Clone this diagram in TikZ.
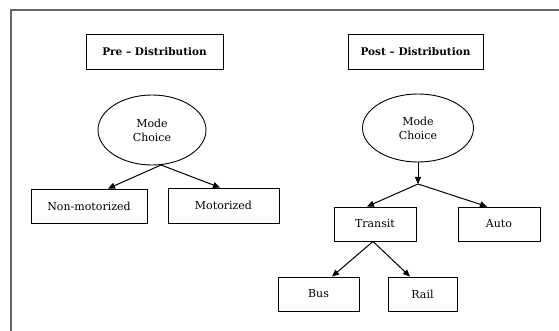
\documentclass[tikz,border=0pt]{standalone}
\usepackage{fontspec}
\setmainfont{DejaVu Serif}
\usetikzlibrary{arrows.meta,shapes.geometric,calc}
\begin{document}
\begin{tikzpicture}[x=1pt,y=-1pt,
  every node/.style={font=\fontsize{11}{14}\selectfont, text=black},
  boxnode/.style={draw=black, line width=0.9pt, rectangle, inner sep=0pt, anchor=center},
  titlenode/.style={boxnode, font=\fontsize{10.5}{13}\selectfont\bfseries},
  ellnode/.style={draw=black, line width=0.9pt, ellipse, inner sep=0pt, align=center, anchor=center},
  arr/.style={draw=black, line width=1pt, -{Triangle[length=7pt,width=6pt]}}]
\useasboundingbox (0,0) rectangle (559,331);
\fill[white] (0,0) rectangle (559,331);
% frame
\draw[draw=black!60, line width=1.6pt] (11,331) -- (11,10) -- (559,10);
% Pre distribution
\node[titlenode, minimum width=137pt, minimum height=35pt] (pre) at (154.5,51.5) {Pre -- Distribution};
\node[ellnode, minimum width=108pt, minimum height=70pt] (lmc) at (152,130) {Mode\\Choice};
\node[boxnode, minimum width=116pt, minimum height=34pt] (nm) at (89,206) {Non-motorized};
\node[boxnode, minimum width=111pt, minimum height=35pt] (mot) at (223.5,205.5) {Motorized};
\coordinate (lsrc) at (161,165);
\draw[arr] (lsrc) -- ($(nm.north)+(19,0)$);
\draw[arr] (lsrc) -- ($(mot.north)+(-3.5,0)$);
% Post distribution
\node[titlenode, minimum width=135pt, minimum height=35pt] (post) at (415.5,51.5) {Post -- Distribution};
\node[ellnode, minimum width=111pt, minimum height=68pt] (rmc) at (418,128) {Mode\\Choice};
\node[boxnode, minimum width=82pt, minimum height=34pt] (tr) at (375,224) {Transit};
\node[boxnode, minimum width=82pt, minimum height=34pt] (au) at (499,224) {Auto};
\node[boxnode, minimum width=81pt, minimum height=34pt] (bus) at (318.5,294) {Bus};
\node[boxnode, minimum width=69pt, minimum height=34pt] (rail) at (422.5,294) {Rail};
\coordinate (junc) at (418,184);
\draw[arr] (rmc.south) -- (junc);
\draw[arr] (junc) -- ($(tr.north)+(-8,0)$);
\draw[arr] (junc) -- ($(au.north)+(-12,0)$);
\coordinate (tsrc) at ($(tr.south)+(-2,0)$);
\draw[arr] (tsrc) -- ($(bus.north)+(13.5,0)$);
\draw[arr] (tsrc) -- ($(rail.north)+(-12.5,0)$);
\end{tikzpicture}
\end{document}
